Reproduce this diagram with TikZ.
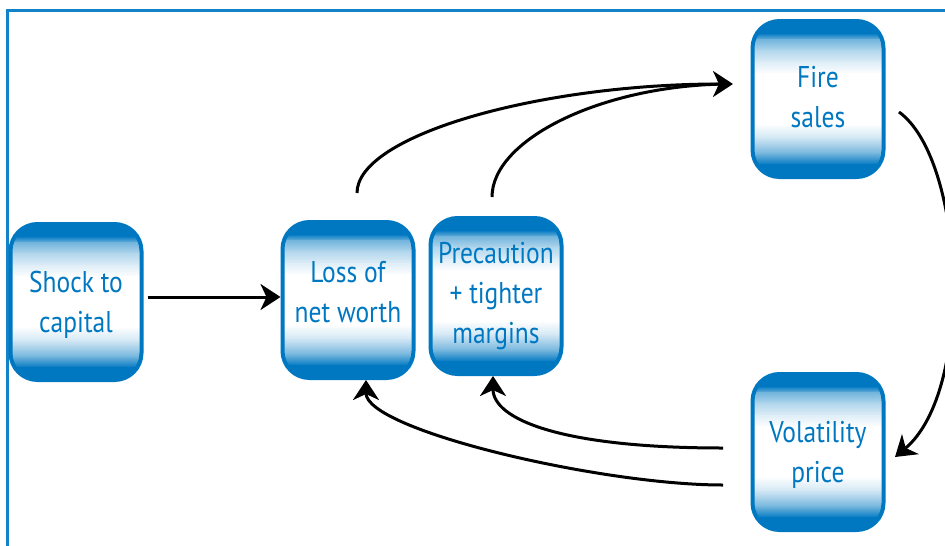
\documentclass[tikz,border=0pt]{standalone}
\usepackage{fontspec}
\setmainfont{PT Sans}[FakeStretch=0.85]
\usetikzlibrary{arrows.meta,calc}
\definecolor{boxblue}{HTML}{0078C1}
\definecolor{frameblue}{HTML}{1283C9}
\newcommand\bandfill[4]{%
  \shade[sharp corners, draw=none, top color=#3, bottom color=#4]
    ($(path picture bounding box.north west)!#1!(path picture bounding box.south west)+(-3,-0.4)$)
    rectangle
    ($(path picture bounding box.north east)!#2!(path picture bounding box.south east)+(3,0.4)$);}
\begin{document}
\begin{tikzpicture}[x=1pt,y=-1pt,
  box/.style={draw=boxblue, line width=4pt, rounded corners=27pt,
    minimum width=131pt, minimum height=156pt,
    path picture={
      \bandfill{0}{0.08}{boxblue}{boxblue}
      \bandfill{0.08}{0.12}{boxblue}{boxblue!55!white}
      \bandfill{0.12}{0.19}{boxblue!55!white}{boxblue!30!white}
      \bandfill{0.19}{0.27}{boxblue!30!white}{boxblue!12!white}
      \bandfill{0.27}{0.34}{boxblue!12!white}{white}
      \bandfill{0.34}{0.66}{white}{white}
      \bandfill{0.66}{0.75}{white}{boxblue!18!white}
      \bandfill{0.75}{0.85}{boxblue!18!white}{boxblue!55!white}
      \bandfill{0.85}{0.92}{boxblue!55!white}{boxblue}
      \bandfill{0.92}{1}{boxblue}{boxblue}
    },
    text=boxblue, align=center, font=\fontsize{30}{40}\selectfont, inner sep=0pt},
  arr/.style={line width=3pt, -{Stealth[length=20pt,width=26pt,inset=6pt]}},
  link/.style={line width=3pt},
  frame/.style={draw=frameblue, line width=3pt}]
\useasboundingbox (0,0) rectangle (945,546);
\draw[frame] (7.5,546) -- (7.5,10.3) -- (945,10.3);

\node[box, text depth=0pt] (shock) at (76,302) {Shock to\\capital};
\node[box, text depth=16pt] (loss) at (348,300) {Loss of\\net worth};
\node[box] (prec) at (496,296) {Precaution\\+ tighter\\margins};
\node[box, text depth=5pt] (fire) at (818,99) {Fire\\sales};
\node[box, text depth=0pt] (vol) at (818,452) {Volatility\\price};

\coordinate (a1) at (357,193);
\coordinate (a2) at (492,197);
\coordinate (fireIn) at (733,84);
\coordinate (fireOut) at (899,112);
\coordinate (volIn) at (895,457);
\coordinate (volOut1) at (723,448);
\coordinate (volOut2) at (723,485);

\draw[arr] ($(shock.east)+(4,-5)$) -- ($(loss.west)+(0,-3)$);
\draw[arr] (a1) .. controls (357,135) and (540,84) .. (fireIn);
\draw[link] (a2) .. controls (492,140) and (600,86) .. ($(fireIn)+(-8,0)$);
\draw[arr] (fireOut) .. controls (965,160) and (975,390) .. (volIn);
\draw[arr] (volOut1) .. controls (560,448) and ($(prec.south)+(-3,43)$) .. ($(prec.south)+(-3,0)$);
\draw[arr] (volOut2) .. controls (600,485) and ($(loss.south)+(18,50)$) .. ($(loss.south)+(18,0)$);
\end{tikzpicture}
\end{document}
